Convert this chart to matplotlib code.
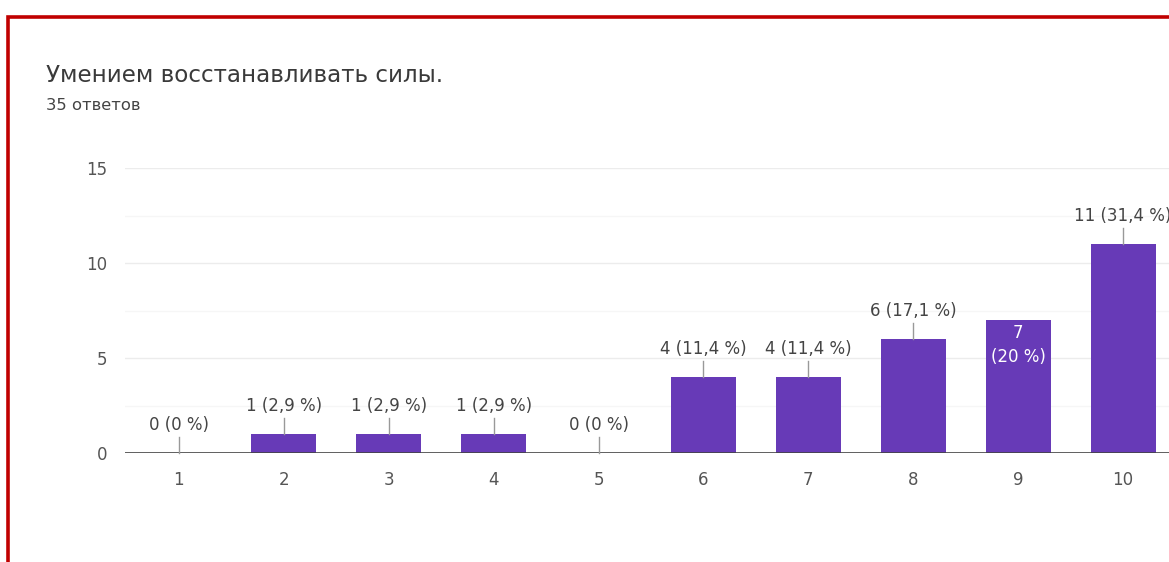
import matplotlib
matplotlib.use("Agg")
import matplotlib.pyplot as plt
from matplotlib.lines import Line2D

title = "Умением восстанавливать силы."
subtitle = "35 ответов"
categories = ["1", "2", "3", "4", "5", "6", "7", "8", "9", "10"]
counts = [0, 1, 1, 1, 0, 4, 4, 6, 7, 11]
percents = ["0", "2,9", "2,9", "2,9", "0", "11,4", "11,4", "17,1", "20", "31,4"]
yticks = [0, 5, 10, 15]

W, H = 1169, 562
plt.rcParams['font.family'] = ['DejaVu Sans']
fig = plt.figure(figsize=(W / 100, H / 100), dpi=100)

def px(x, y):
    return x / W, 1 - y / H

# red frame
fig.add_artist(Line2D([8 / W, 8 / W, 1.01], [0, 1 - 16.5 / H, 1 - 16.5 / H],
                      transform=fig.transFigure, color="#c00000", lw=2.6,
                      solid_capstyle="butt", solid_joinstyle="miter"))

fig.text(*px(46, 75), title, fontsize=16.6, color="#3a3a3a", va="center", ha="left")
fig.text(*px(46, 106), subtitle, fontsize=11.8, color="#444444", va="center", ha="left")

left, right = 125, 1177
bottom, top = 453, 168
ax = fig.add_axes([left / W, 1 - bottom / H, (right - left) / W, (bottom - top) / H])
x = list(range(1, len(categories) + 1))
ax.bar(x, counts, width=0.62, color="#673ab7", zorder=3)
ax.set_xlim(0.486, 10.514)
ax.set_ylim(0, 15)
for s in ax.spines.values():
    s.set_visible(False)
ax.axhline(0, color="#444444", lw=1.2, zorder=4)
for v in [2.5, 7.5, 12.5]:
    ax.axhline(v, color="#f6f6f6", lw=1, zorder=1)
for v in [5, 10, 15]:
    ax.axhline(v, color="#ececec", lw=1, zorder=1)
ax.set_yticks(yticks)
ax.set_yticklabels([str(t) for t in yticks])
ax.set_xticks(x)
ax.set_xticklabels(categories)
ax.tick_params(axis="both", length=0, labelsize=12, colors="#555555")
ax.tick_params(axis="y", pad=13)
ax.tick_params(axis="x", pad=13)

for i, (xi, c, p) in enumerate(zip(x, counts, percents)):
    if i == 8:
        ax.text(xi, c - 0.68, str(c), ha="center", va="center", color="white", fontsize=12, zorder=5)
        ax.text(xi, c - 1.95, f"({p} %)", ha="center", va="center", color="white", fontsize=12, zorder=5)
    else:
        ax.plot([xi, xi], [c, c + 0.85], color="#999999", lw=1, zorder=4, clip_on=False)
        ax.text(xi, c + 1.45, f"{c} ({p} %)", ha="center", va="center", color="#444444",
                fontsize=12, zorder=5, clip_on=False)

fig.savefig("out.png", dpi=100)
